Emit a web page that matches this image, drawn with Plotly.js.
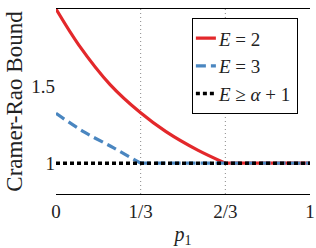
<!DOCTYPE html>
<html><head><meta charset="utf-8">
<script src="https://cdn.plot.ly/plotly-3.0.1.min.js"></script>
<style>html,body{margin:0;padding:0;background:#fff}#c{width:316px;height:248px}</style>
</head><body><div id="c"></div>
<script>
// E = 2 curve and its flat tail
var pRed = [0, 0.09, 0.213, 0.333, 0.433, 0.558, 0.667];
var vRed = [2.0, 1.766, 1.51, 1.327, 1.205, 1.085, 1.0];
var pRedTail = [0.667, 1];
var vRedTail = [1.0, 1.0];
// E = 3 curve and its flat tail
var pBlue = [0, 0.11, 0.227, 0.333];
var vBlue = [1.323, 1.203, 1.099, 1.0];
var pBlueTail = [0.333, 1];
var vBlueTail = [1.0, 1.0];
// E >= alpha + 1
var pBlack = [0, 1];
var vBlack = [1, 1];
var xTickVals = [0, 1/3, 2/3, 1];
var xTickText = ['0', '1/3', '2/3', '1'];
var yTickVals = [1, 1.5, 2];
var yTickText = ['1', '1.5', '2'];
var gridX = [1/3, 2/3];
var names = ['<i>E</i> = 2', '<i>E</i> = 3', '<i>E</i> ≥ <i>α</i> + 1'];

var font = "'Liberation Serif', 'Times New Roman', serif";
var red = '#e3282b', blue = '#4a86c0';
var traces = [
  {x: pRed, y: vRed, mode: 'lines', name: names[0], legendgroup: 'r', line: {color: red, width: 3.2, shape: 'spline', smoothing: 1}},
  {x: pRedTail, y: vRedTail, mode: 'lines', showlegend: false, legendgroup: 'r', line: {color: red, width: 3.2}},
  {x: pBlue, y: vBlue, mode: 'lines', name: names[1], legendgroup: 'b', line: {color: blue, width: 3.2, dash: '10px,5px', shape: 'spline', smoothing: 1}},
  {x: pBlueTail, y: vBlueTail, mode: 'lines', showlegend: false, legendgroup: 'b', line: {color: blue, width: 3.2, dash: '10px,5px'}},
  {x: pBlack, y: vBlack, mode: 'lines', name: names[2], line: {color: '#000', width: 3.5, dash: '4px,3px'}}
];
var shapes = gridX.map(function(g){return {type:'line', xref:'x', yref:'paper', x0:g, x1:g, y0:0, y1:1, layer:'below', line:{color:'#888', width:1, dash:'1px,3px'}};});
var layout = {
  width: 316, height: 248,
  margin: {l: 56, r: 4, t: 9, b: 54},
  paper_bgcolor: '#fff', plot_bgcolor: '#fff',
  font: {family: font, size: 19, color: '#222'},
  showlegend: true,
  legend: {x: 0.535, y: 0.95, xanchor: 'left', yanchor: 'top', bordercolor: '#000', borderwidth: 1, bgcolor: '#fff', itemwidth: 30, font: {family: font, size: 19, color: '#222'}, tracegroupgap: 0},
  xaxis: {range: [0, 1], tickvals: xTickVals, ticktext: xTickText, ticklabeloverflow: 'allow', showgrid: false, zeroline: false, showline: true, mirror: true, linecolor: '#000', linewidth: 1, ticks: '', tickfont: {family: font, size: 19}, title: {text: '<i>p</i><sub>1</sub>', font: {family: font, size: 20}, standoff: 8}},
  yaxis: {range: [0.8, 2], tickvals: yTickVals, ticktext: yTickText, showgrid: false, zeroline: false, showline: false, ticks: '', tickfont: {family: font, size: 19}, title: {text: 'Cramer-Rao Bound', font: {family: font, size: 23}, standoff: 2}},
  shapes: shapes
};
Plotly.newPlot('c', traces, layout, {staticPlot: true}).then(function(gd){
  // shorten legend line samples to match the reference
  var shift = 14;
  gd.querySelectorAll('.legend .traces').forEach(function(t){
    t.querySelectorAll('.legendlines path').forEach(function(p){ p.setAttribute('d', 'M3,0h20'); });
    var tx = t.querySelector('.legendtext');
    if (tx) { tx.setAttribute('x', (+tx.getAttribute('x')) - shift); }
  });
  var bg = gd.querySelector('.legend .bg');
  if (bg) { bg.setAttribute('width', (+bg.getAttribute('width')) - shift); }
});
</script></body></html>
